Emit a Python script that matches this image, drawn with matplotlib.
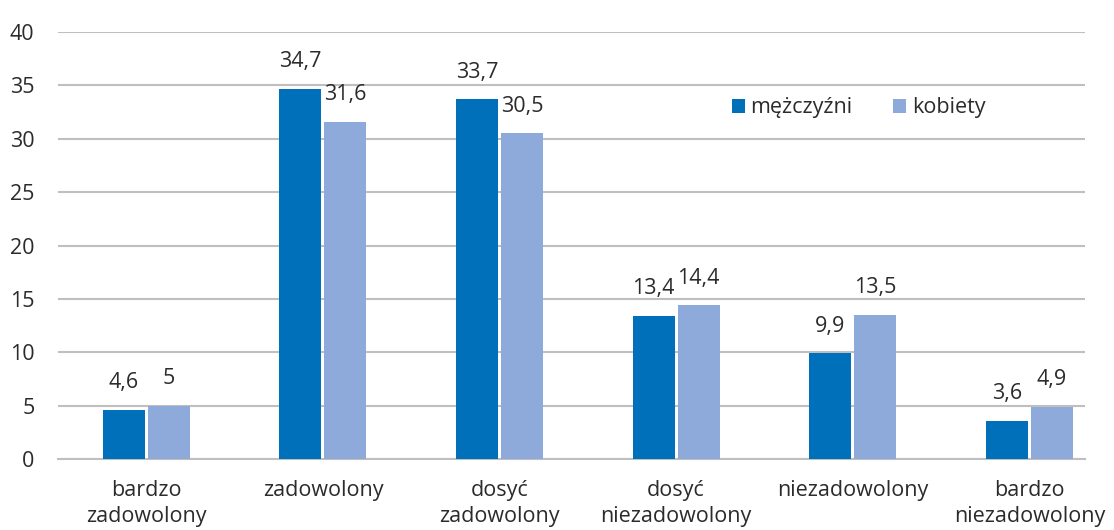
import matplotlib.pyplot as plt
import numpy as np

categories = ["bardzo\nzadowolony", "zadowolony", "dosyć\nzadowolony",
              "dosyć\nniezadowolony", "niezadowolony", "bardzo\nniezadowolony"]
men = [4.6, 34.7, 33.7, 13.4, 9.9, 3.6]
women = [5.0, 31.6, 30.5, 14.4, 13.5, 4.9]
men_labels = ["4,6", "34,7", "33,7", "13,4", "9,9", "3,6"]
women_labels = ["5", "31,6", "30,5", "14,4", "13,5", "4,9"]
yticks = [0, 5, 10, 15, 20, 25, 30, 35, 40]

plt.rcParams['font.family'] = ['Open Sans', 'DejaVu Sans']
c_men = "#0070BA"
c_women = "#8EAADB"
grid_c = "#BFBFBF"
text_c = "#2b2b2b"
fs = 15.5

W, H = 1114, 530
fig = plt.figure(figsize=(W / 100, H / 100), dpi=100)
# plot area: 58..1085 px horizontally, 32..459 px vertically
ax = fig.add_axes([58 / W, 1 - 459 / H, (1085 - 58) / W, (459 - 32) / H])

x = np.arange(len(categories))
w = 0.238
gap = 0.0085
b1 = ax.bar(x - w / 2 - gap, men, w, color=c_men, label="mężczyźni", zorder=3)
b2 = ax.bar(x + w / 2 + gap, women, w, color=c_women, label="kobiety", zorder=3)

for bars, labs in ((b1, men_labels), (b2, women_labels)):
    for r, t in zip(bars, labs):
        ax.annotate(t, (r.get_x() + r.get_width() / 2, r.get_height()),
                    xytext=(0, 12), textcoords="offset points",
                    ha="center", va="bottom", fontsize=fs, color=text_c,
                    annotation_clip=False)

# one category slot is 176.6 px wide
ax.set_xlim(-0.5, -0.5 + (1085 - 58) / 176.6)
ax.set_ylim(0, 40)
ax.set_yticks(yticks)
ax.set_yticklabels([str(v) for v in yticks], fontsize=fs, color=text_c)
ax.set_xticks(x)
ax.set_xticklabels(categories, fontsize=fs, color=text_c, va="top", linespacing=1.3)
ax.tick_params(axis="both", length=0)
ax.tick_params(axis="y", pad=17)
ax.tick_params(axis="x", pad=15)

ax.yaxis.grid(True, color=grid_c, linewidth=1.5, zorder=0)
ax.set_axisbelow(True)
for s in ("left", "right", "top"):
    ax.spines[s].set_visible(False)
ax.spines["bottom"].set_color(grid_c)
ax.spines["bottom"].set_linewidth(1.5)

ax.legend(loc="center left", bbox_to_anchor=((732 - 58) / 1027, (459 - 108) / 427),
          ncol=2, frameon=False, borderpad=0, borderaxespad=0,
          fontsize=fs, handlelength=0.6, handleheight=0.6, handletextpad=0.25,
          columnspacing=1.9, labelcolor=text_c)

fig.savefig("out.png", dpi=100)
